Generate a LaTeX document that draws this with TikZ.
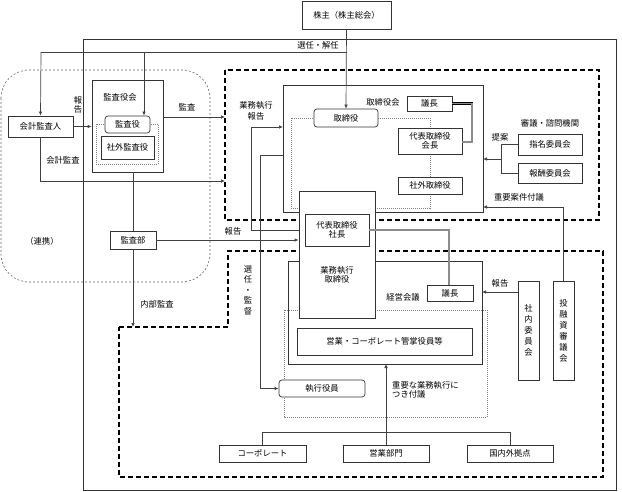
\documentclass[tikz,border=0pt]{standalone}
\usepackage{fontspec}
\setmainfont{Noto Sans CJK JP}
\usetikzlibrary{arrows.meta}
\begin{document}
\begin{tikzpicture}[x=1pt,y=-1pt,
  every node/.style={font=\fontsize{8.3}{10}\selectfont, inner sep=0pt},
  box/.style={draw=black!80, line width=0.7pt, fill=white, align=center},
  rbox/.style={box, rounded corners=3pt},
  vbox/.style={box, align=center, font=\fontsize{8.3}{11}\selectfont},
  lbl/.style={align=center},
  ln/.style={draw=black!75, line width=0.7pt},
  arr/.style={ln, -{Latex[length=4pt,width=3.5pt]}},
  dbl/.style={draw=black, double=black!45, double distance=1.6pt, line width=0.5pt},
  dashbox/.style={draw=black, line width=1.1pt, dash pattern=on 5pt off 3pt},
  dotbox/.style={draw=black!50, line width=0.6pt, dash pattern=on 1pt off 1pt},
  solidbox/.style={draw=black!80, line width=0.7pt}
]
\useasboundingbox (0,0) rectangle (622,492);

% outer box
\draw[solidbox] (83,39) rectangle (616,490);
% renkei region
\draw[draw=black!60, line width=0.6pt, dash pattern=on 2pt off 2pt, rounded corners=28pt] (1,70) rectangle (210,282);
\node[lbl] (renkei) at (42,241) {（連携）};

% dashed regions
\draw[dashbox] (225,70) rectangle (599,220);
\draw[dashbox] (119,327) -- (228,327) -- (228,251) -- (603,251) -- (603,477) -- (119,477) -- cycle;

% top
\node[box, minimum width=89, minimum height=28] (kabu) at (346.5,15) {株主（株主総会）};

% audit side
\node[box, minimum width=65, minimum height=21] (kaikei) at (40.5,126.5) {会計監査人};
\node[box, minimum width=71, minimum height=92] (kskai) at (127.5,126) {};
\node[lbl] (kskailbl) at (120,97) {監査役会};
\draw[dotbox] (96,124) rectangle (158,164);
\node[rbox, minimum width=45, minimum height=17] (ksy) at (127.5,124.5) {監査役};
\node[box, minimum width=53, minimum height=23] (sgksy) at (127.5,147.5) {社外監査役};
\node[box, minimum width=46, minimum height=18] (kansabu) at (133,240) {監査部};

% board
\draw[solidbox] (283,85) rectangle (483,212);
\draw[dotbox] (291,118) rectangle (430,208);
\node[lbl] (tkkai) at (383,102) {取締役会};
\node[rbox, minimum width=64, minimum height=18] (tsy) at (346,118) {取締役};
\node[box, minimum width=45, minimum height=15] (gicho1) at (429.5,103.5) {議長};
\node[box, minimum width=64, minimum height=26, font=\fontsize{8.3}{9.5}\selectfont] (kaicho) at (430,141) {代表取締役\\会長};
\node[box, minimum width=64, minimum height=17] (sgtsy) at (430,185.5) {社外取締役};
\node[lbl] (shingi) at (550,123) {審議・諮問機関};
\node[box, minimum width=64, minimum height=21] (shimei) at (550,144.5) {指名委員会};
\node[box, minimum width=64, minimum height=20] (hoshu) at (550,173) {報酬委員会};

% management meeting
\draw[solidbox] (288,261) rectangle (482,364);
\draw[dotbox] (284,310) rectangle (487,417);
\node[lbl] (keieilbl) at (403,297) {経営会議};
\node[box, minimum width=46, minimum height=16] (gicho2) at (450,293) {議長};
\node[box, minimum width=175, minimum height=27] (eigyocorp) at (384.5,341.5) {営業・コーポレート管掌役員等};
\node[rbox, minimum width=86, minimum height=17] (shikko) at (322,388.5) {執行役員};

% executive director box
\node[box, minimum width=76, minimum height=127] (exec) at (337,254.5) {};
\node[box, minimum width=64, minimum height=32, font=\fontsize{8.3}{9.5}\selectfont] (shacho) at (337,230) {代表取締役\\社長};
\node[lbl, font=\fontsize{8.3}{9.5}\selectfont] (execlbl) at (337,275) {業務執行\\取締役};

% committees
\node[vbox, minimum width=21, minimum height=99] (shanai) at (528.5,330.5) {社\\内\\委\\員\\会};
\node[vbox, minimum width=21, minimum height=99] (toyushi) at (563.5,330.5) {投\\融\\資\\審\\議\\会};

% bottom units
\node[box, minimum width=87, minimum height=17] (corp) at (262.5,453.5) {コーポレート};
\node[box, minimum width=86, minimum height=17] (eigyobu) at (386,453.5) {営業部門};
\node[box, minimum width=86, minimum height=17] (kokunai) at (510,453.5) {国内外拠点};

% coordinates
\coordinate (senL) at (41,52);
\coordinate (senM) at (144,52);
\coordinate (senR) at (347,52);
\coordinate (kansaIn) at (225,117);
\coordinate (kaikeiIn) at (225,181);
\coordinate (naibu) at (133,327);

% connectors
\draw[arr] (kabu.south) -- (tsy.north);
\draw[ln] (senR) -- (senL);
\draw[arr] (senL) -- (kaikei.north);
\draw[arr] (senM) -- (senM |- ksy.north);
\node[lbl] (senninlbl) at (318,45) {選任・解任};

\draw[arr] (kaikei.east) -- (kaikei.east -| kskai.west);
\node[lbl, font=\fontsize{8.3}{9}\selectfont] (hokoku1) at (78,105) {報\\告};
\draw[arr] (kskai.east |- kansaIn) -- (kansaIn);
\node[lbl] (kansalbl) at (187,107) {監査};
\draw[arr] (kaikei.south) |- (kaikeiIn);
\node[lbl] (kaikeikansa) at (63,160) {会計監査};

\draw[ln] (kansabu.north) -- (kansabu.north |- kskai.south);
\draw[arr] (kansabu.south) -- (naibu);
\node[lbl] (naibulbl) at (157,304) {内部監査};
\draw[arr] (kansabu.east) -- (kansabu.east -| exec.west);
\node[lbl] (hokoku2) at (233,231) {報告};

\draw[arr] (exec.west |- shacho.east) -- (251,230) -- (251,127) -- (283,127);
\node[lbl, font=\fontsize{8.3}{11}\selectfont] (gyomuhokoku) at (256,111) {業務執行\\報告};
\draw[arr] (283,155) -- (260,155) -- (260,388.5) -- (shikko.west);
\node[lbl, font=\fontsize{8.3}{10.5}\selectfont] (senninkantoku) at (248,290) {選\\任\\・\\監\\督};

\draw[ln] (shimei.west) -- (501,144.5) -- (501,173) -- (hoshu.west);
\draw[arr] (501,159) -- (483,159);
\node[lbl] (teian) at (500,137) {提案};
\draw[arr] (toyushi.north) -- (563.5,207) -- (483,207);
\node[lbl] (juyo) at (519,197) {重要案件付議};
\draw[arr] (shanai.west |- 0,292) -- (482,292);
\node[lbl] (hokoku3) at (500,283) {報告};

\draw[dbl] (gicho1.east) -- (472,103.5) -- (472,142) -- (462,142);
\draw[dbl] (shacho.east) -- (449,230) -- (gicho2.north -| 449,0);

\draw[arr] (eigyobu.north) -- (386,364);
\node[lbl, align=left, anchor=west, font=\fontsize{8.3}{9.5}\selectfont] (fugi) at (392,390) {重要な業務執行に\\つき付議};
\draw[ln] (corp.north) -- (262.5,432) -- (510,432) -- (kokunai.north);
\end{tikzpicture}
\end{document}
